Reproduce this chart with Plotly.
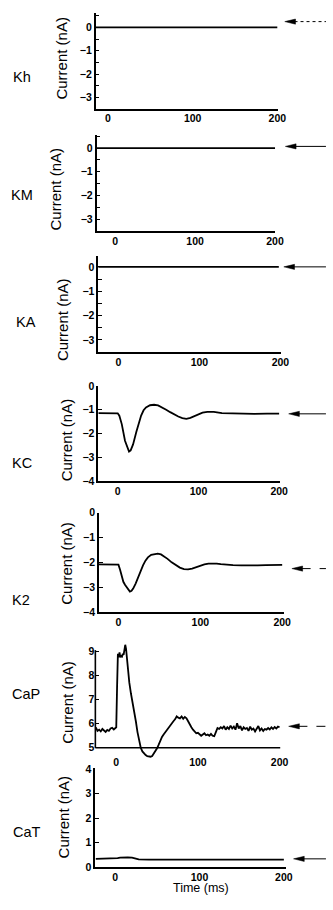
import plotly.graph_objects as go

W, H = 333, 910

# ---------------- data ----------------
channel_names = ["Kh", "KM", "KA", "KC", "K2", "CaP", "CaT"]
x_tick_values = [0, 100, 200]
time_axis_title = "Time (ms)"
current_axis_title = "Current (nA)"

kh_time = [-15, 0, 50, 100, 150, 200]
kh_current = [0.0, 0.0, 0.0, 0.0, 0.0, 0.0]

km_time = [-23, 0, 30, 40, 50, 60, 70, 120, 200]
km_current = [0.0, 0.0, 0.0, 0.03, 0.03, 0.02, 0.0, 0.0, 0.0]

ka_time = [-25, 0, 50, 100, 150, 198]
ka_current = [0.0, 0.0, 0.0, 0.0, 0.0, 0.0]

kc_time = [-24, -10, 0, 2, 5, 9, 12, 14, 16, 19, 23, 26, 29, 32, 35, 40, 45, 50, 55, 60, 65,
           70, 75, 80, 85, 90, 95, 100, 105, 111, 119, 129, 145, 169, 185, 200]
kc_current = [-1.14, -1.14, -1.15, -1.25, -1.6, -2.3, -2.62, -2.75, -2.7, -2.45, -1.93, -1.55, -1.24,
              -1.02, -0.9, -0.81, -0.79, -0.82, -0.9, -1.0, -1.1, -1.2, -1.28, -1.35, -1.38, -1.34,
              -1.26, -1.17, -1.12, -1.09, -1.09, -1.14, -1.16, -1.17, -1.16, -1.16]

k2_time = [-25, -10, 0, 2, 4, 6, 8, 10, 12, 14, 16, 18, 21, 24, 27, 30, 33, 36, 40, 44, 48, 52,
           56, 60, 65, 70, 75, 80, 85, 90, 95, 100, 105, 110, 115, 120, 125, 130, 140, 150, 160,
           170, 180, 190, 200]
k2_current = [-2.08, -2.08, -2.09, -2.3, -2.6, -2.78, -2.9, -3.0, -3.1, -3.17, -3.14, -3.05, -2.85,
              -2.6, -2.35, -2.12, -1.93, -1.8, -1.7, -1.66, -1.65, -1.68, -1.76, -1.86, -2.0, -2.12,
              -2.21, -2.27, -2.28, -2.25, -2.19, -2.13, -2.08, -2.05, -2.04, -2.05, -2.07, -2.09,
              -2.11, -2.12, -2.13, -2.12, -2.11, -2.11, -2.1]

cap_time = [-25, -23, -21, -19, -17, -15, -13, -11, -9, -7, -5, -3, -1, 0, 1, 2, 3, 4, 5, 6, 7,
            8, 9, 10, 11, 12, 13, 14, 16, 18, 20, 22, 24, 26, 28, 30, 32, 34, 36, 38, 40, 42, 44,
            46, 48, 50, 52, 54, 56, 58, 60, 62, 64, 66, 68, 70, 72, 74, 76, 78, 80, 82, 84, 86,
            88, 90, 92, 94, 96, 98, 100, 102, 104, 106, 108, 110, 112, 114, 116, 118, 120, 122,
            124, 126, 128, 130, 132, 134, 136, 138, 140, 142, 144, 146, 148, 150, 152, 154, 156,
            158, 160, 162, 164, 166, 168, 170, 172, 174, 176, 178, 180, 182, 184, 186, 188, 190,
            192, 194, 196, 198, 200]
cap_current = [5.85, 5.7, 5.75, 5.68, 5.78, 5.72, 5.66, 5.74, 5.7, 5.8, 5.83, 5.76, 5.8, 5.85,
               7.5, 8.9, 8.75, 8.95, 8.75, 8.8, 8.78, 8.9, 8.85, 9.05, 9.27, 9.1, 8.7, 8.3, 7.7,
               7.25, 6.9, 6.5, 6.1, 5.65, 5.3, 5.0, 4.85, 4.75, 4.7, 4.65, 4.63, 4.63, 4.66, 4.75,
               4.85, 4.98, 5.13, 5.3, 5.45, 5.55, 5.65, 5.75, 5.85, 5.92, 6.0, 6.1, 6.18, 6.3,
               6.25, 6.22, 6.3, 6.2, 6.28, 6.22, 6.1, 5.95, 5.85, 5.75, 5.68, 5.6, 5.62, 5.55,
               5.5, 5.55, 5.6, 5.52, 5.55, 5.5, 5.58, 5.5, 5.48, 5.65, 5.82, 5.78, 5.85, 5.8,
               5.9, 5.75, 5.85, 5.78, 5.92, 5.8, 5.88, 5.75, 6.02, 5.8, 5.9, 5.72, 5.85, 5.78,
               5.82, 5.7, 5.88, 5.75, 5.8, 5.68, 5.78, 5.9, 5.72, 5.8, 5.7, 5.78, 5.75, 5.82,
               5.76, 5.85, 5.78, 5.86, 5.8, 5.88, 5.85]

cat_time = [-23, -5, 0, 3, 6, 10, 15, 20, 24, 28, 40, 60, 80, 100, 150, 200]
cat_current = [0.34, 0.34, 0.34, 0.37, 0.39, 0.4, 0.4, 0.39, 0.36, 0.32, 0.31, 0.32, 0.32,
               0.31, 0.31, 0.31]

# resting (holding) current level marked by the arrow on the right of each panel
resting_levels = [0.25, 0.07, 0.0, -1.17, -2.25, 5.89, 0.34]

series_time = [kh_time, km_time, ka_time, kc_time, k2_time, cap_time, cat_time]
series_current = [kh_current, km_current, ka_current, kc_current, k2_current, cap_current, cat_current]

# ---------------- layout (pixels) ----------------
# xl, xr: axis line extent; trange: time at xl/xr; yt, yb: drawn y-axis extent; vrange: (bottom, top)
# data_yt/data_yb: optional taller plotting area (trace may run past the drawn axes)
panels = [
    dict(xl=98.3, xr=285.7, trange=(-14.6, 200.8), yt=7.3, yb=104.3, vrange=(-3.49, 0.61), minor=True,
         name_xy=(23, 72), title_xy=(63, 53), tip=292.7, dash="dot"),
    dict(xl=99.3, xr=283.1, trange=(-23.1, 200.5), yt=130.5, yb=228.3, vrange=(-3.51, 0.56), minor=True,
         name_xy=(23, 192), title_xy=(57.5, 185), tip=293.3, dash="solid"),
    dict(xl=101.0, xr=288.3, trange=(-24.8, 200.1), yt=253.0, yb=351.0, vrange=(-3.51, 0.46), minor=True,
         name_xy=(27, 320), title_xy=(65, 318), tip=291.7, dash="solid"),
    dict(xl=101.0, xr=287.3, trange=(-24.1, 200.4), yt=385.0, yb=481.7, vrange=(-4.0, 0.0), minor=False,
         name_xy=(23, 463), title_xy=(68, 440), tip=296.7, dash="solid"),
    dict(xl=101.7, xr=291.7, trange=(-23.8, 202.0), yt=513.3, yb=614.3, vrange=(-4.0, 0.0), minor=False,
         name_xy=(22, 602), title_xy=(68, 565), tip=300.0, dash="dash"),
    dict(xl=98.0, xr=288.0, trange=(-25.6, 200.8), yt=652.7, yb=751.7, vrange=(5.0, 9.05), minor=False,
         name_xy=(27, 697), title_xy=(70, 706), tip=296.7, dash="dash",
         data_yt=646.0, data_yb=762.0, label_standoff=-3),
    dict(xl=98.0, xr=294.0, trange=(-23.4, 202.6), yt=772.3, yb=872.7, vrange=(0.0, 4.04), minor=False,
         name_xy=(28, 837), title_xy=(65, 822), tip=301.7, dash="solid"),
]

INK = "#000000"
FONT = "Liberation Sans, Arial, Helvetica, sans-serif"
TICK_FONT = dict(size=10.5, family=FONT, color=INK, weight="bold")


def px(x):
    return x / W


def py(y):
    return 1 - y / H


def value_to_pixel(p, v):
    vb, vt = p["vrange"]
    return p["yt"] + (vt - v) / (vt - vb) * (p["yb"] - p["yt"])


fig = go.Figure()
layout = dict(
    width=W, height=H, margin=dict(l=0, r=0, t=0, b=0, pad=0),
    paper_bgcolor="white", plot_bgcolor="white", showlegend=False,
    font=dict(family=FONT, color=INK),
)
annotations = []
shapes = []

for i, p in enumerate(panels):
    n = i + 1
    xa = "xaxis" if n == 1 else f"xaxis{n}"
    ya = "yaxis" if n == 1 else f"yaxis{n}"
    xid = "x" if n == 1 else f"x{n}"
    yid = "y" if n == 1 else f"y{n}"

    extended = "data_yt" in p
    vb, vt = p["vrange"]
    if extended:
        scale = (p["yb"] - p["yt"]) / (vt - vb)
        top_v = vt + (p["yt"] - p["data_yt"]) / scale
        bot_v = vb - (p["data_yb"] - p["yb"]) / scale
        dom_top, dom_bot = p["data_yt"], p["data_yb"]
        yrange = [bot_v, top_v]
    else:
        dom_top, dom_bot = p["yt"], p["yb"]
        yrange = [vb, vt]
    standoff = p.get("label_standoff", -1)

    layout[xa] = dict(
        domain=[px(p["xl"]), px(p["xr"])], range=list(p["trange"]), anchor=yid,
        showline=not extended, linewidth=1.6, linecolor=INK, ticks="",
        tickmode="array", tickvals=x_tick_values, tickfont=TICK_FONT,
        ticklabelstandoff=standoff,
        showgrid=False, zeroline=False, fixedrange=True,
    )
    yax = dict(
        domain=[py(dom_bot), py(dom_top)], range=yrange, anchor=xid,
        showline=not extended, linewidth=1.6, linecolor=INK,
        ticks="inside", ticklen=4, tickwidth=1.3, tickcolor=INK,
        tick0=0, dtick=1, tickfont=TICK_FONT,
        showgrid=False, zeroline=False, fixedrange=True,
    )
    if p["minor"]:
        yax["minor"] = dict(ticks="inside", ticklen=4, tickwidth=1.3, tickcolor=INK,
                            tick0=0, dtick=0.5, showgrid=False)
    layout[ya] = yax

    if extended:
        # draw the axes only over their labelled extent
        shapes.append(dict(type="line", xref="paper", yref="paper",
                           x0=px(p["xl"]), x1=px(p["xl"]), y0=py(p["yt"]), y1=py(p["yb"]),
                           line=dict(color=INK, width=1.6)))
        shapes.append(dict(type="line", xref="paper", yref="paper",
                           x0=px(p["xl"]), x1=px(p["xr"]), y0=py(p["yb"]), y1=py(p["yb"]),
                           line=dict(color=INK, width=1.6)))

    fig.add_trace(go.Scatter(
        x=series_time[i], y=series_current[i], mode="lines",
        line=dict(color=INK, width=1.8), xaxis=xid, yaxis=yid,
        hoverinfo="skip", showlegend=False,
    ))

    annotations.append(dict(
        text=channel_names[i], x=px(p["name_xy"][0]), y=py(p["name_xy"][1]),
        xref="paper", yref="paper", showarrow=False, xanchor="center", yanchor="middle",
        font=dict(size=14.5, family=FONT, color=INK),
    ))
    annotations.append(dict(
        text=current_axis_title, x=px(p["title_xy"][0]), y=py(p["title_xy"][1]),
        xref="paper", yref="paper", showarrow=False, textangle=-90,
        xanchor="center", yanchor="middle",
        font=dict(size=15, family=FONT, color=INK),
    ))

    # resting-level arrow on the right
    ay = value_to_pixel(p, resting_levels[i])
    tip = p["tip"]
    head_len, head_half = 11.0, 2.6
    shapes.append(dict(
        type="path", xref="paper", yref="paper",
        path=(f"M {px(tip)} {py(ay)} L {px(tip + head_len)} {py(ay - head_half)} "
              f"L {px(tip + head_len)} {py(ay + head_half)} Z"),
        fillcolor=INK, line=dict(color=INK, width=0.5),
    ))
    shapes.append(dict(
        type="line", xref="paper", yref="paper",
        x0=px(tip + head_len - 1), x1=px(W + 2), y0=py(ay), y1=py(ay),
        line=dict(color=INK, width=1, dash=p["dash"]),
    ))

annotations.append(dict(
    text=time_axis_title, x=px(207), y=py(894), xref="paper", yref="paper",
    showarrow=False, xanchor="center", yanchor="middle",
    font=dict(size=12.5, family=FONT, color=INK),
))

layout["annotations"] = annotations
layout["shapes"] = shapes
fig.update_layout(**layout)

fig.write_html("out.html")
